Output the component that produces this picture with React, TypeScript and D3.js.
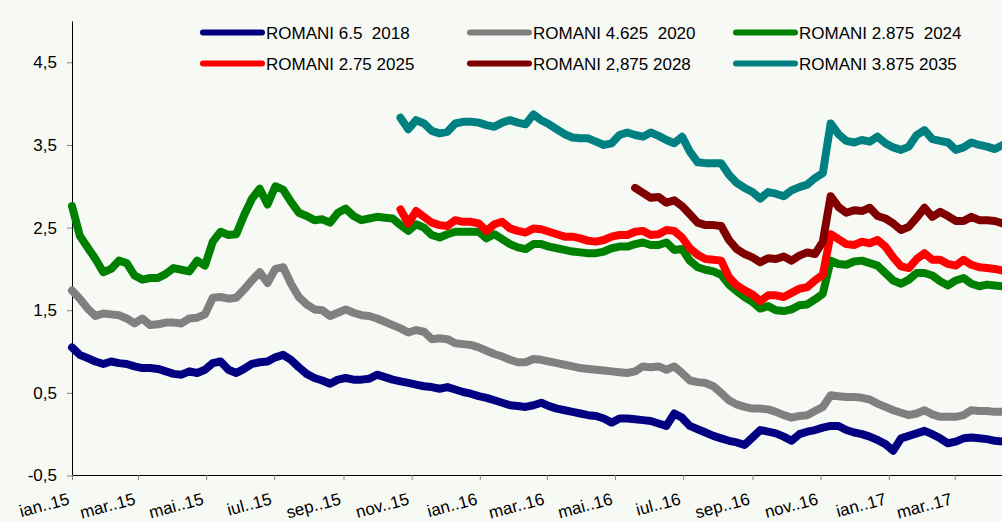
import React, { useEffect, useRef } from "react";
import * as d3 from "d3";

// weekly closing yields, first week = 1 jan 2015
const firstDay = new Date(2015, 0, 1);
const lastDay = new Date(2017, 3, 12);

const seriesNames = [
  "ROMANI 6.5  2018",
  "ROMANI 4.625  2020",
  "ROMANI 2.875  2024",
  "ROMANI 2.75 2025",
  "ROMANI 2,875 2028",
  "ROMANI 3.875 2035",
];
const seriesColors = ["#000080", "#808080", "#008000", "#ff0000", "#800000", "#008080"];
// week number where each series begins
const seriesStartWeek = [0, 0, 0, 42, 72, 42];

const romani2018 = [
  1.05, 0.96, 0.92, 0.88, 0.85, 0.88, 0.86, 0.85, 0.82, 0.8,
  0.8, 0.79, 0.76, 0.73, 0.72, 0.76, 0.74, 0.78, 0.86, 0.88,
  0.78, 0.74, 0.79, 0.85, 0.87, 0.88, 0.93, 0.96, 0.9, 0.81,
  0.73, 0.68, 0.65, 0.61, 0.66, 0.68, 0.66, 0.66, 0.67, 0.72,
  0.69, 0.66, 0.64, 0.62, 0.6, 0.58, 0.57, 0.55, 0.57, 0.54,
  0.51, 0.49, 0.46, 0.44, 0.41, 0.38, 0.35, 0.34, 0.33, 0.35,
  0.38, 0.34, 0.31, 0.29, 0.27, 0.25, 0.23, 0.22, 0.19, 0.14,
  0.19, 0.19, 0.18, 0.17, 0.16, 0.13, 0.1, 0.25, 0.2, 0.1,
  0.06, 0.02, -0.02, -0.05, -0.08, -0.1, -0.13, -0.04, 0.05, 0.03,
  0.01, -0.03, -0.08, 0.0, 0.03, 0.05, 0.08, 0.1, 0.1, 0.05,
  0.02, 0.0, -0.03, -0.07, -0.12, -0.2, -0.05, -0.02, 0.01, 0.04,
  0.0, -0.05, -0.11, -0.09, -0.05, -0.04, -0.05, -0.06, -0.08, -0.09,
];

const romani2020 = [
  1.74, 1.64, 1.52, 1.43, 1.46, 1.45, 1.44, 1.4, 1.34, 1.4,
  1.32, 1.33, 1.35, 1.35, 1.34, 1.4, 1.41, 1.45, 1.65, 1.66,
  1.64, 1.65, 1.75, 1.86, 1.96, 1.83, 2.0, 2.02, 1.82, 1.66,
  1.57, 1.51, 1.5, 1.43, 1.47, 1.51, 1.47, 1.44, 1.43, 1.4,
  1.36, 1.32, 1.28, 1.23, 1.26, 1.24, 1.15, 1.16, 1.15, 1.1,
  1.09, 1.08, 1.05, 1.01, 0.97, 0.94, 0.9, 0.87, 0.87, 0.91,
  0.9, 0.88, 0.86, 0.84, 0.82, 0.8, 0.79, 0.78, 0.77, 0.76,
  0.75, 0.74, 0.76, 0.82, 0.81, 0.82, 0.78, 0.82, 0.74, 0.65,
  0.63, 0.62, 0.58, 0.5, 0.41, 0.36, 0.33, 0.31, 0.31, 0.3,
  0.27, 0.23, 0.2, 0.22, 0.23, 0.28, 0.33, 0.47, 0.46, 0.45,
  0.45, 0.44, 0.42, 0.37, 0.33, 0.29, 0.26, 0.23, 0.25, 0.29,
  0.24, 0.21, 0.21, 0.21, 0.23, 0.29, 0.28, 0.28, 0.27, 0.27,
];

const romani2024 = [
  2.76, 2.4, 2.26, 2.12, 1.96, 2.0, 2.1, 2.07, 1.92, 1.87,
  1.89, 1.89, 1.94, 2.01, 1.99, 1.97, 2.1, 2.04, 2.33, 2.45,
  2.41, 2.42, 2.65, 2.85, 2.97, 2.78, 3.0, 2.96, 2.81, 2.68,
  2.64, 2.59, 2.6, 2.56, 2.68, 2.73, 2.64, 2.59, 2.61, 2.63,
  2.62, 2.61, 2.53, 2.46, 2.54, 2.5, 2.41, 2.38, 2.42, 2.45,
  2.45, 2.45, 2.45, 2.37, 2.42, 2.36, 2.3, 2.26, 2.24, 2.3,
  2.3, 2.27, 2.25, 2.23, 2.21, 2.2, 2.19, 2.19, 2.21, 2.25,
  2.27, 2.27, 2.3, 2.32, 2.29, 2.29, 2.32, 2.23, 2.24, 2.1,
  2.02, 1.99, 1.97, 1.93, 1.81, 1.73, 1.66, 1.6, 1.52, 1.55,
  1.5, 1.49, 1.51, 1.56, 1.57, 1.63, 1.7, 2.1, 2.06, 2.05,
  2.09, 2.1, 2.07, 2.04, 1.95, 1.86, 1.82, 1.87, 1.95, 1.95,
  1.92, 1.85, 1.8, 1.86, 1.89, 1.82, 1.79, 1.81, 1.8, 1.79,
];

const romani2025 = [
  2.72, 2.55, 2.7, 2.63, 2.56, 2.53, 2.52, 2.59,
  2.57, 2.57, 2.55, 2.46, 2.54, 2.57, 2.49, 2.46, 2.44, 2.49,
  2.48, 2.45, 2.42, 2.39, 2.39, 2.37, 2.34, 2.33, 2.35, 2.39,
  2.41, 2.41, 2.45, 2.46, 2.41, 2.42, 2.47, 2.46, 2.38, 2.25,
  2.17, 2.12, 2.11, 2.1, 1.9, 1.8, 1.74, 1.69, 1.61, 1.68,
  1.68, 1.66, 1.71, 1.76, 1.78, 1.86, 1.93, 2.42, 2.36, 2.3,
  2.29, 2.33, 2.31, 2.35, 2.27, 2.14, 2.03, 2.01, 2.12, 2.19,
  2.11, 2.11, 2.06, 2.04, 2.11, 2.05, 2.02, 2.01, 2.0, 1.98,
];

const romani2028 = [
  2.98, 2.92, 2.86, 2.87, 2.8, 2.83, 2.76, 2.66,
  2.56, 2.53, 2.53, 2.52, 2.35, 2.24, 2.18, 2.14, 2.08, 2.13,
  2.12, 2.15, 2.1, 2.16, 2.2, 2.18, 2.33, 2.88, 2.75, 2.68,
  2.71, 2.7, 2.74, 2.64, 2.61, 2.55, 2.47, 2.51, 2.62, 2.74,
  2.63, 2.69, 2.64, 2.58, 2.58, 2.63, 2.59, 2.59, 2.58, 2.55,
];

const romani2035 = [
  3.83, 3.69, 3.8, 3.76, 3.67, 3.64, 3.66, 3.76,
  3.78, 3.78, 3.77, 3.74, 3.72, 3.77, 3.8, 3.77, 3.75, 3.87,
  3.8, 3.75, 3.69, 3.63, 3.59, 3.58, 3.58, 3.54, 3.5, 3.52,
  3.62, 3.65, 3.62, 3.6, 3.65, 3.61, 3.56, 3.52, 3.6, 3.42,
  3.29, 3.28, 3.28, 3.28, 3.14, 3.04, 2.98, 2.93, 2.85, 2.93,
  2.91, 2.88, 2.95, 2.99, 3.02, 3.1, 3.16, 3.76, 3.63, 3.55,
  3.53, 3.56, 3.54, 3.6, 3.52, 3.47, 3.44, 3.48, 3.62, 3.68,
  3.57, 3.55, 3.53, 3.44, 3.47, 3.53, 3.5, 3.48, 3.45, 3.5,
];

const seriesValues = [romani2018, romani2020, romani2024, romani2025, romani2028, romani2035];

const tickLabels = [
  "ian..15", "mar..15", "mai..15", "iul..15", "sep..15", "nov..15",
  "ian..16", "mar..16", "mai..16", "iul..16", "sep..16", "nov..16",
  "ian..17", "mar..17",
];
const yTicks = [-0.5, 0.5, 1.5, 2.5, 3.5, 4.5];

const W = 1002;
const H = 522;
const FONT = "'Liberation Sans', Arial, Helvetica, sans-serif";

export default function App() {
  const svgRef = useRef<SVGSVGElement>(null);

  useEffect(() => {
    const svg = d3.select(svgRef.current);
    svg.selectAll("*").remove();

    svg.append("rect").attr("width", W).attr("height", H).attr("fill", "#f7f9f5");

    const x = d3.scaleTime().domain([firstDay, lastDay]).range([72, 1001.6]);
    const y = d3.scaleLinear().domain([-0.5, 5]).range([475.5, 21]);

    // y axis
    const yAxis = svg.append("g")
      .attr("transform", "translate(72,0)")
      .call(
        d3.axisLeft(y)
          .tickValues(yTicks)
          .tickSize(5)
          .tickSizeOuter(0)
          .tickPadding(10)
          .tickFormat((d) => String(d).replace(".", ","))
      );
    yAxis.attr("font-family", FONT).attr("font-size", 17);
    yAxis.select(".domain").attr("stroke", "#000");
    yAxis.selectAll(".tick line").attr("stroke", "#808080");
    yAxis.selectAll(".tick text").attr("fill", "#000");

    // x axis
    const tickDates = d3.timeMonth.every(2)!.range(firstDay, new Date(2017, 2, 2));
    const xAxis = svg.append("g")
      .attr("transform", "translate(0,475)")
      .call(
        d3.axisBottom(x)
          .tickValues(tickDates)
          .tickSize(5)
          .tickSizeOuter(0)
          .tickFormat((d, i) => tickLabels[i])
      );
    xAxis.attr("font-family", FONT).attr("font-size", 17);
    xAxis.select(".domain").attr("stroke", "#000");
    xAxis.selectAll(".tick line").attr("stroke", "#808080");
    xAxis.selectAll(".tick text")
      .attr("fill", "#000")
      .attr("x", 0)
      .attr("y", 0)
      .attr("dy", 0)
      .attr("text-anchor", "end")
      .attr("transform", "translate(-2,29) rotate(-15)");

    // lines
    const line = d3.line<[Date, number]>()
      .x((d) => x(d[0]))
      .y((d) => y(d[1]))
      .curve(d3.curveLinear);

    seriesValues.forEach((values, s) => {
      const pts: [Date, number][] = values.map((v, i) => [
        d3.timeDay.offset(firstDay, 7 * (seriesStartWeek[s] + i)),
        v,
      ]);
      svg.append("path")
        .datum(pts)
        .attr("fill", "none")
        .attr("stroke", seriesColors[s])
        .attr("stroke-width", 8)
        .attr("stroke-linejoin", "round")
        .attr("stroke-linecap", "round")
        .attr("d", line);
    });

    // legend
    const colX = [203, 470, 736];
    const rowY = [32.5, 63.5];
    const legend = svg.append("g").attr("font-family", FONT).attr("font-size", 17);
    seriesNames.forEach((name, i) => {
      const lx = colX[i % 3];
      const ly = rowY[Math.floor(i / 3)];
      legend.append("line")
        .attr("x1", lx)
        .attr("x2", lx + 59)
        .attr("y1", ly)
        .attr("y2", ly)
        .attr("stroke", seriesColors[i])
        .attr("stroke-width", 6)
        .attr("stroke-linecap", "round");
      legend.append("text")
        .attr("x", lx + 63)
        .attr("y", ly + 6)
        .attr("fill", "#000")
        .style("white-space", "pre")
        .text(name);
    });
  }, []);

  return (
    <svg
      ref={svgRef}
      width={W}
      height={H}
      style={{ position: "absolute", left: 0, top: 0, display: "block" }}
    />
  );
}
